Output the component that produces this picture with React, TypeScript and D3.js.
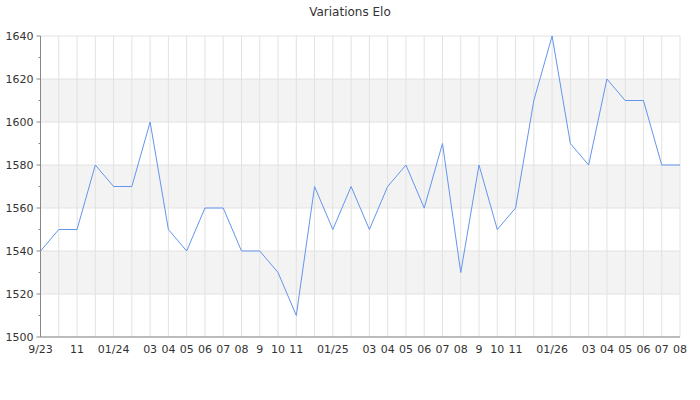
import React from 'react';
import * as d3 from 'd3';

// monthly Elo, Sep 2023 -> Aug 2026
const months = [
  '2023-09', '2023-10', '2023-11', '2023-12',
  '2024-01', '2024-02', '2024-03', '2024-04', '2024-05', '2024-06', '2024-07', '2024-08', '2024-09', '2024-10', '2024-11', '2024-12',
  '2025-01', '2025-02', '2025-03', '2025-04', '2025-05', '2025-06', '2025-07', '2025-08', '2025-09', '2025-10', '2025-11', '2025-12',
  '2026-01', '2026-02', '2026-03', '2026-04', '2026-05', '2026-06', '2026-07', '2026-08',
];

const elo = [
  1540, 1550, 1550, 1580,
  1570, 1570, 1600, 1550, 1540, 1560, 1560, 1540, 1540, 1530, 1510, 1570,
  1550, 1570, 1550, 1570, 1580, 1560, 1590, 1530, 1580, 1550, 1560, 1610,
  1640, 1590, 1580, 1620, 1610, 1610, 1580, 1580,
];

// labels that fit; empty ones are dropped by the renderer
const tickLabels = [
  '9/23', '', '11', '',
  '01/24', '', '03', '04', '05', '06', '07', '08', '9', '10', '11', '',
  '01/25', '', '03', '04', '05', '06', '07', '08', '9', '10', '11', '',
  '01/26', '', '03', '04', '05', '06', '07', '08',
];

const yTicks = [1500, 1520, 1540, 1560, 1580, 1600, 1620, 1640];

const W = 700;
const H = 400;
const margin = { top: 36, right: 20, bottom: 63, left: 40.5 };

export default function App() {
  const x = d3.scalePoint<string>()
    .domain(months)
    .range([margin.left, W - margin.right]);
  const y = d3.scaleLinear()
    .domain([1500, 1640])
    .range([H - margin.bottom, margin.top]);

  const line = d3.line<number>()
    .x((_, i) => x(months[i])!)
    .y(d => y(d));

  const font = { fontFamily: 'DejaVu Sans, sans-serif', fontSize: 11, fill: '#333' };
  const left = margin.left;
  const right = W - margin.right;

  return (
    <svg width={W} height={H} style={{ position: 'absolute', left: 0, top: 0, background: '#fff' }}>
      <text x={W / 2} y={16} textAnchor="middle" style={{ ...font, fontSize: 12 }}>Variations Elo</text>

      {/* alternating bands */}
      {yTicks.slice(0, -1).map((t, i) => (i % 2 === 1 ? (
        <rect key={'b' + t} x={left} y={y(yTicks[i + 1])} width={right - left}
          height={y(t) - y(yTicks[i + 1])} fill="#f3f3f3" />
      ) : null))}

      {/* grid */}
      {yTicks.map(t => (
        <line key={'gy' + t} x1={left} x2={right} y1={y(t)} y2={y(t)} stroke="#e2e2e2" />
      ))}
      {months.map(m => (
        <line key={'gx' + m} x1={x(m)} x2={x(m)} y1={y(1640)} y2={y(1500)} stroke="#e2e2e2" />
      ))}

      {/* y axis */}
      <line x1={left} x2={left} y1={y(1640)} y2={y(1500)} stroke="#888" />
      {yTicks.map(t => (
        <g key={'ty' + t}>
          <line x1={left - 4} x2={left} y1={y(t)} y2={y(t)} stroke="#888" />
          <text x={left - 7} y={y(t)} dy="0.35em" textAnchor="end" style={font}>{t}</text>
        </g>
      ))}
      {yTicks.slice(0, -1).map(t => (
        <line key={'my' + t} x1={left - 2} x2={left} y1={y(t + 10)} y2={y(t + 10)} stroke="#888" />
      ))}

      {/* x axis */}
      <line x1={left} x2={right} y1={y(1500)} y2={y(1500)} stroke="#888" />
      {months.map((m, i) => tickLabels[i] ? (
        <text key={'tx' + m} x={x(m)} y={y(1500) + 16} textAnchor="middle" style={font}>{tickLabels[i]}</text>
      ) : null)}

      <path d={line(elo)!} fill="none" stroke="#6495ed" strokeWidth={1} />
    </svg>
  );
}
